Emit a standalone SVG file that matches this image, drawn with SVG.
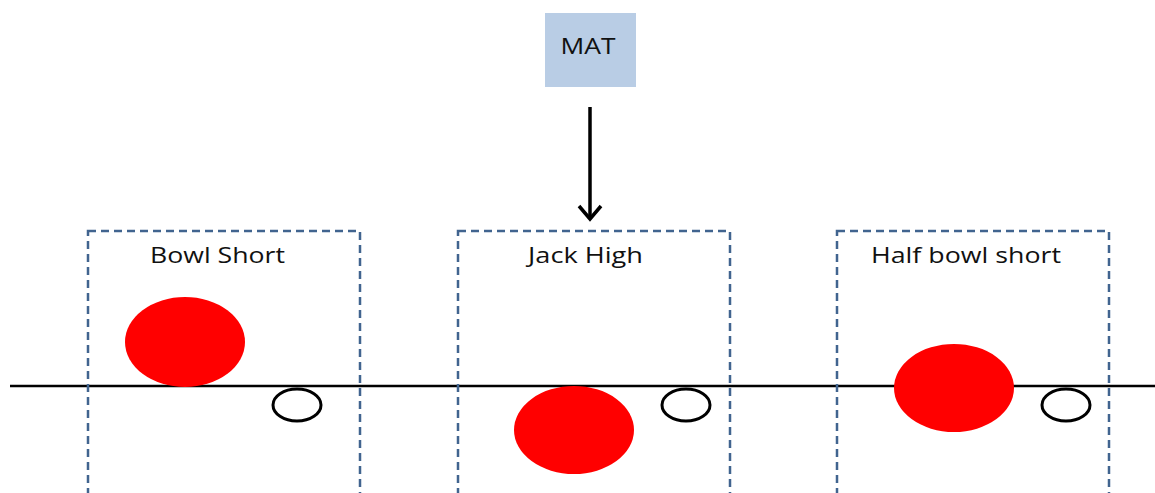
<svg xmlns="http://www.w3.org/2000/svg" width="1155" height="493" viewBox="0 0 1155 493">
<defs>
<style>
.zone{fill:none;stroke:#41648F;stroke-width:2.5;stroke-dasharray:8,5}
.lbl{font-family:"Open Sans","Liberation Sans",sans-serif;font-size:21px;fill:#111;text-anchor:middle}
.bowl{fill:#FF0000}
.jack{fill:#fff;stroke:#000;stroke-width:3}
</style>
</defs>
<rect width="1155" height="493" fill="#fff"/>
<g id="mat">
<rect x="545" y="13" width="91" height="74" fill="#B9CDE5"/>
<text class="lbl" x="588" y="54" textLength="55" lengthAdjust="spacingAndGlyphs">MAT</text>
</g>
<g id="connectors">
<line x1="590" y1="107" x2="590" y2="219" stroke="#000" stroke-width="3.5"/>
<polyline points="579,206 590,219 601,206" fill="none" stroke="#000" stroke-width="3.5"/>
</g>
<line x1="10" y1="386" x2="1155" y2="386" stroke="#000" stroke-width="2.5"/>
<g id="bowl-short">
<rect class="zone" x="88" y="231" width="272" height="270"/>
<text class="lbl" x="217.5" y="263" textLength="135" lengthAdjust="spacingAndGlyphs">Bowl Short</text>
<ellipse class="bowl" cx="185" cy="342" rx="60" ry="45"/>
<ellipse class="jack" cx="297" cy="405" rx="24" ry="16"/>
</g>
<g id="jack-high">
<rect class="zone" x="458" y="231" width="272" height="270"/>
<text class="lbl" x="585.5" y="263" textLength="115" lengthAdjust="spacingAndGlyphs">Jack High</text>
<ellipse class="bowl" cx="574" cy="430" rx="60" ry="44"/>
<ellipse class="jack" cx="686" cy="405" rx="24" ry="16"/>
</g>
<g id="half-bowl-short">
<rect class="zone" x="837" y="231" width="272" height="270"/>
<text class="lbl" x="966" y="263" textLength="190" lengthAdjust="spacingAndGlyphs">Half bowl short</text>
<ellipse class="bowl" cx="954" cy="388" rx="60" ry="44"/>
<ellipse class="jack" cx="1066" cy="405" rx="24" ry="16"/>
</g>
</svg>
